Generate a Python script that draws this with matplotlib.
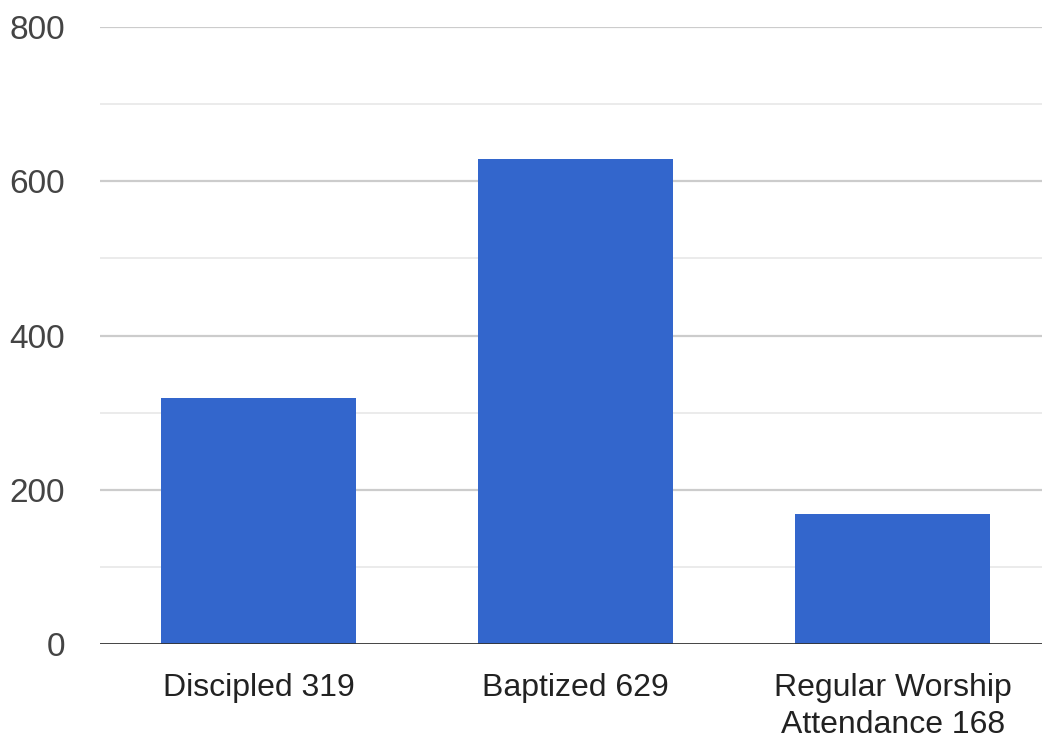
import matplotlib
matplotlib.use("Agg")
import matplotlib.pyplot as plt

# category labels and counts
categories = ["Discipled 319", "Baptized 629", "Regular Worship\nAttendance 168"]
counts = [319, 629, 168]
major_ticks = [0, 200, 400, 600, 800]
minor_ticks = [100, 300, 500, 700]

plt.rcParams['font.family'] = ['Liberation Sans', 'DejaVu Sans']

fig = plt.figure(figsize=(10.42, 7.42), dpi=100)
ax = fig.add_axes([0.096, 0.132, 0.904, 0.8316])

x = range(len(categories))
ax.bar(x, counts, width=0.615, color='#3366cc', zorder=3)

ax.set_xlim(-0.5, 2.47)
ax.set_ylim(0, 800)
ax.set_yticks(major_ticks)
ax.set_yticks(minor_ticks, minor=True)
ax.set_xticks(list(x))
ax.set_xticklabels(categories, fontsize=23, color='#222222', linespacing=1.3)
ax.set_yticklabels([str(t) for t in major_ticks], fontsize=24, color='#444444')

for t in major_ticks[1:]:
    ax.axhline(t, color='#cccccc', lw=1.6, zorder=1)
for t in minor_ticks:
    ax.axhline(t, color='#ebebeb', lw=1.4, zorder=1)
ax.axhline(0, color='#333333', lw=2.0, zorder=4)

for s in ax.spines.values():
    s.set_visible(False)
ax.tick_params(axis='y', which='both', length=0, pad=25)
ax.tick_params(axis='x', length=0, pad=21)

fig.savefig("out.png", dpi=100)
